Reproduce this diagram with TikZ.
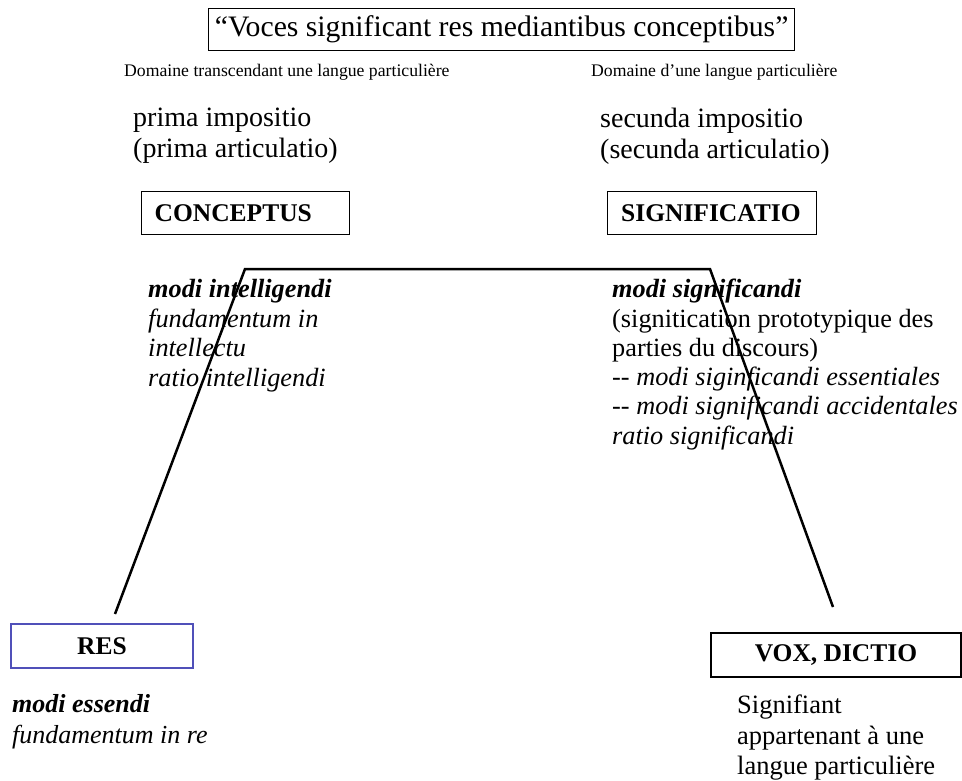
\documentclass[tikz,border=0pt]{standalone}
\usepackage{fontspec}
\setmainfont{Liberation Serif}
\usetikzlibrary{positioning}
\definecolor{resblue}{RGB}{80,80,185}
\tikzset{
	boxnode/.style={draw, line width=1.3pt, inner sep=0pt, minimum height=43pt, font=\fontsize{25.5}{28}\selectfont\bfseries},
	leftbox/.style={boxnode, anchor=north west, minimum width=208pt, text width=182pt, align=left},
	textblock/.style={anchor=north west, inner sep=0pt, align=left, font=\fontsize{28}{31}\selectfont},
	itblock/.style={anchor=north west, inner sep=0pt, align=left, font=\fontsize{26.3}{29.3}\selectfont\itshape},
	smalltext/.style={anchor=base west, inner sep=0pt, font=\fontsize{17.7}{20}\selectfont}
}
\begin{document}
\begin{tikzpicture}[x=1pt, y=-1pt]
		\useasboundingbox (0,0) rectangle (962,780);
		% title
		\node (title) [boxnode, anchor=north west, minimum width=586pt, minimum height=42pt, font=\fontsize{29.7}{34}\selectfont] at (208,8) {“Voces significant res mediantibus conceptibus”};
		\node (domL) [smalltext] at (124,76) {Domaine transcendant une langue particulière};
		\node (domR) [smalltext] at (591,76) {Domaine d’une langue particulière};
		% impositio
		\node (primaimp) [textblock] at (133,108) {prima impositio\\(prima articulatio)};
		\node (secundaimp) [textblock] at (600,108) {secunda impositio\\(secunda articulatio)};
		% boxes
		\node (conceptus) [leftbox] at (141,191) {CONCEPTUS};
		\node (significatio) [leftbox, minimum width=209pt] at (607,191) {SIGNIFICATIO};
		\node (res) [boxnode, draw=resblue, minimum width=182pt, minimum height=44pt] at (102,646) {RES};
		\node (vox) [boxnode, minimum width=250pt, minimum height=44pt] at (836,655) {VOX, DICTIO};
		% modi
		\node (intelligendi) [itblock, font=\fontsize{26.3}{29.7}\selectfont\itshape] at (148,279) {\textbf{modi intelligendi}\\fundamentum in\\intellectu\\ratio intelligendi};
		\node (significandi) [itblock] at (612,279) {\textbf{modi significandi}\\\upshape(signitication prototypique des\\\upshape parties du discours)\\\upshape-{}- \itshape modi siginficandi essentiales\\\upshape-{}- \itshape modi significandi accidentales\\ratio significandi};
		\node (essendi) [itblock, font=\fontsize{26}{31}\selectfont\itshape] at (12,694) {\textbf{modi essendi}\\fundamentum in re};
		\node (signifiant) [itblock, font=\fontsize{26.5}{30.5}\selectfont\upshape] at (737,695) {Signifiant\\appartenant à une\\langue particulière};
		% trapeze
		\coordinate (resTop) at (115,614);
		\coordinate (cornerL) at (245,269);
		\coordinate (cornerR) at (710,269);
		\coordinate (voxTop) at (833,607);
		\draw [line width=2.5pt] (resTop) -- (cornerL) -- (cornerR) -- (voxTop);
\end{tikzpicture}
\end{document}
